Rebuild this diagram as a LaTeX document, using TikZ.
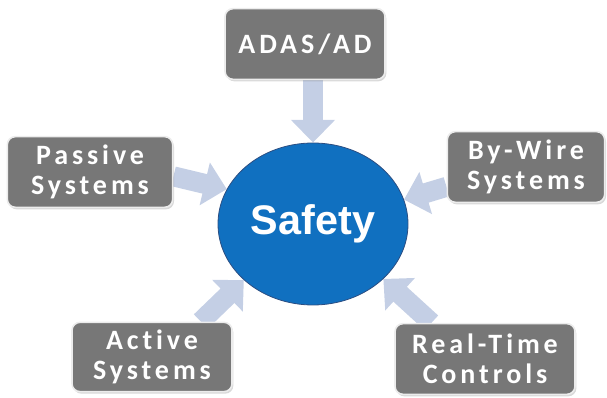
\documentclass[tikz,border=0pt]{standalone}
\usepackage{fontspec}
\usetikzlibrary{arrows.meta,shapes.geometric,shadows,backgrounds}
\newfontfamily\boxfont[LetterSpace=14,Ligatures={NoCommon,NoDiscretionary,NoRare}]{Carlito}
\newfontfamily\safetyfont{Liberation Sans}
\definecolor{boxgray}{RGB}{119,119,119}
\definecolor{safetyblue}{RGB}{16,112,192}
\definecolor{rimblue}{RGB}{44,78,130}
\definecolor{arrowblue}{RGB}{196,207,229}
\tikzset{
  topic/.style={rectangle, rounded corners=6pt, fill=boxgray, draw=white!85!gray,
    line width=1.2pt, minimum height=53pt, inner sep=0pt, align=center, text=white,
    font=\boxfont\bfseries\fontsize{21}{22.5}\selectfont,
    drop shadow={shadow xshift=1pt, shadow yshift=-1.5pt, opacity=0.3}},
  feed/.style={draw=arrowblue, line width=15pt,
    -{Triangle[length=17pt, width=32pt]}},
}
\begin{document}
\begin{tikzpicture}[x=0.75pt,y=0.75pt,yscale=-1,xscale=1]
\useasboundingbox (0,0) rectangle (607,398);

%Shape: Ellipse
\node (safety) at (313,224) [ellipse, fill=safetyblue, draw=rimblue, line width=0.6pt,
  minimum width=142.5pt, minimum height=121.5pt, inner sep=0pt, text=white,
  font=\safetyfont\bfseries\fontsize{31}{31}\selectfont] {Safety};

% Text Nodes
\node (adas) at (305,44) [topic, minimum width=120pt] {ADAS/AD};
\node (passive) at (90,172) [topic, minimum width=124pt] {Passive\\Systems};
\node (bywire) at (526,167) [topic, minimum width=118pt] {By-Wire\\Systems};
\node (active) at (152,357) [topic, minimum width=120pt, minimum height=52pt] {Active\\Systems};
\node (realtime) at (485,359) [topic, minimum width=135pt] {Real-Time\\Controls};

%Arrows
\begin{pgfonlayer}{background}
\draw [feed] (safety.north |- adas.south) -- (safety.north);
\draw [feed] (passive.-3) -- (safety.158);
\draw [feed] (bywire.194) -- (safety.15);
\draw [feed] (active.36) -- (safety.219);
\draw [feed] (realtime.146) -- (safety.322);
\end{pgfonlayer}

\end{tikzpicture}
\end{document}
